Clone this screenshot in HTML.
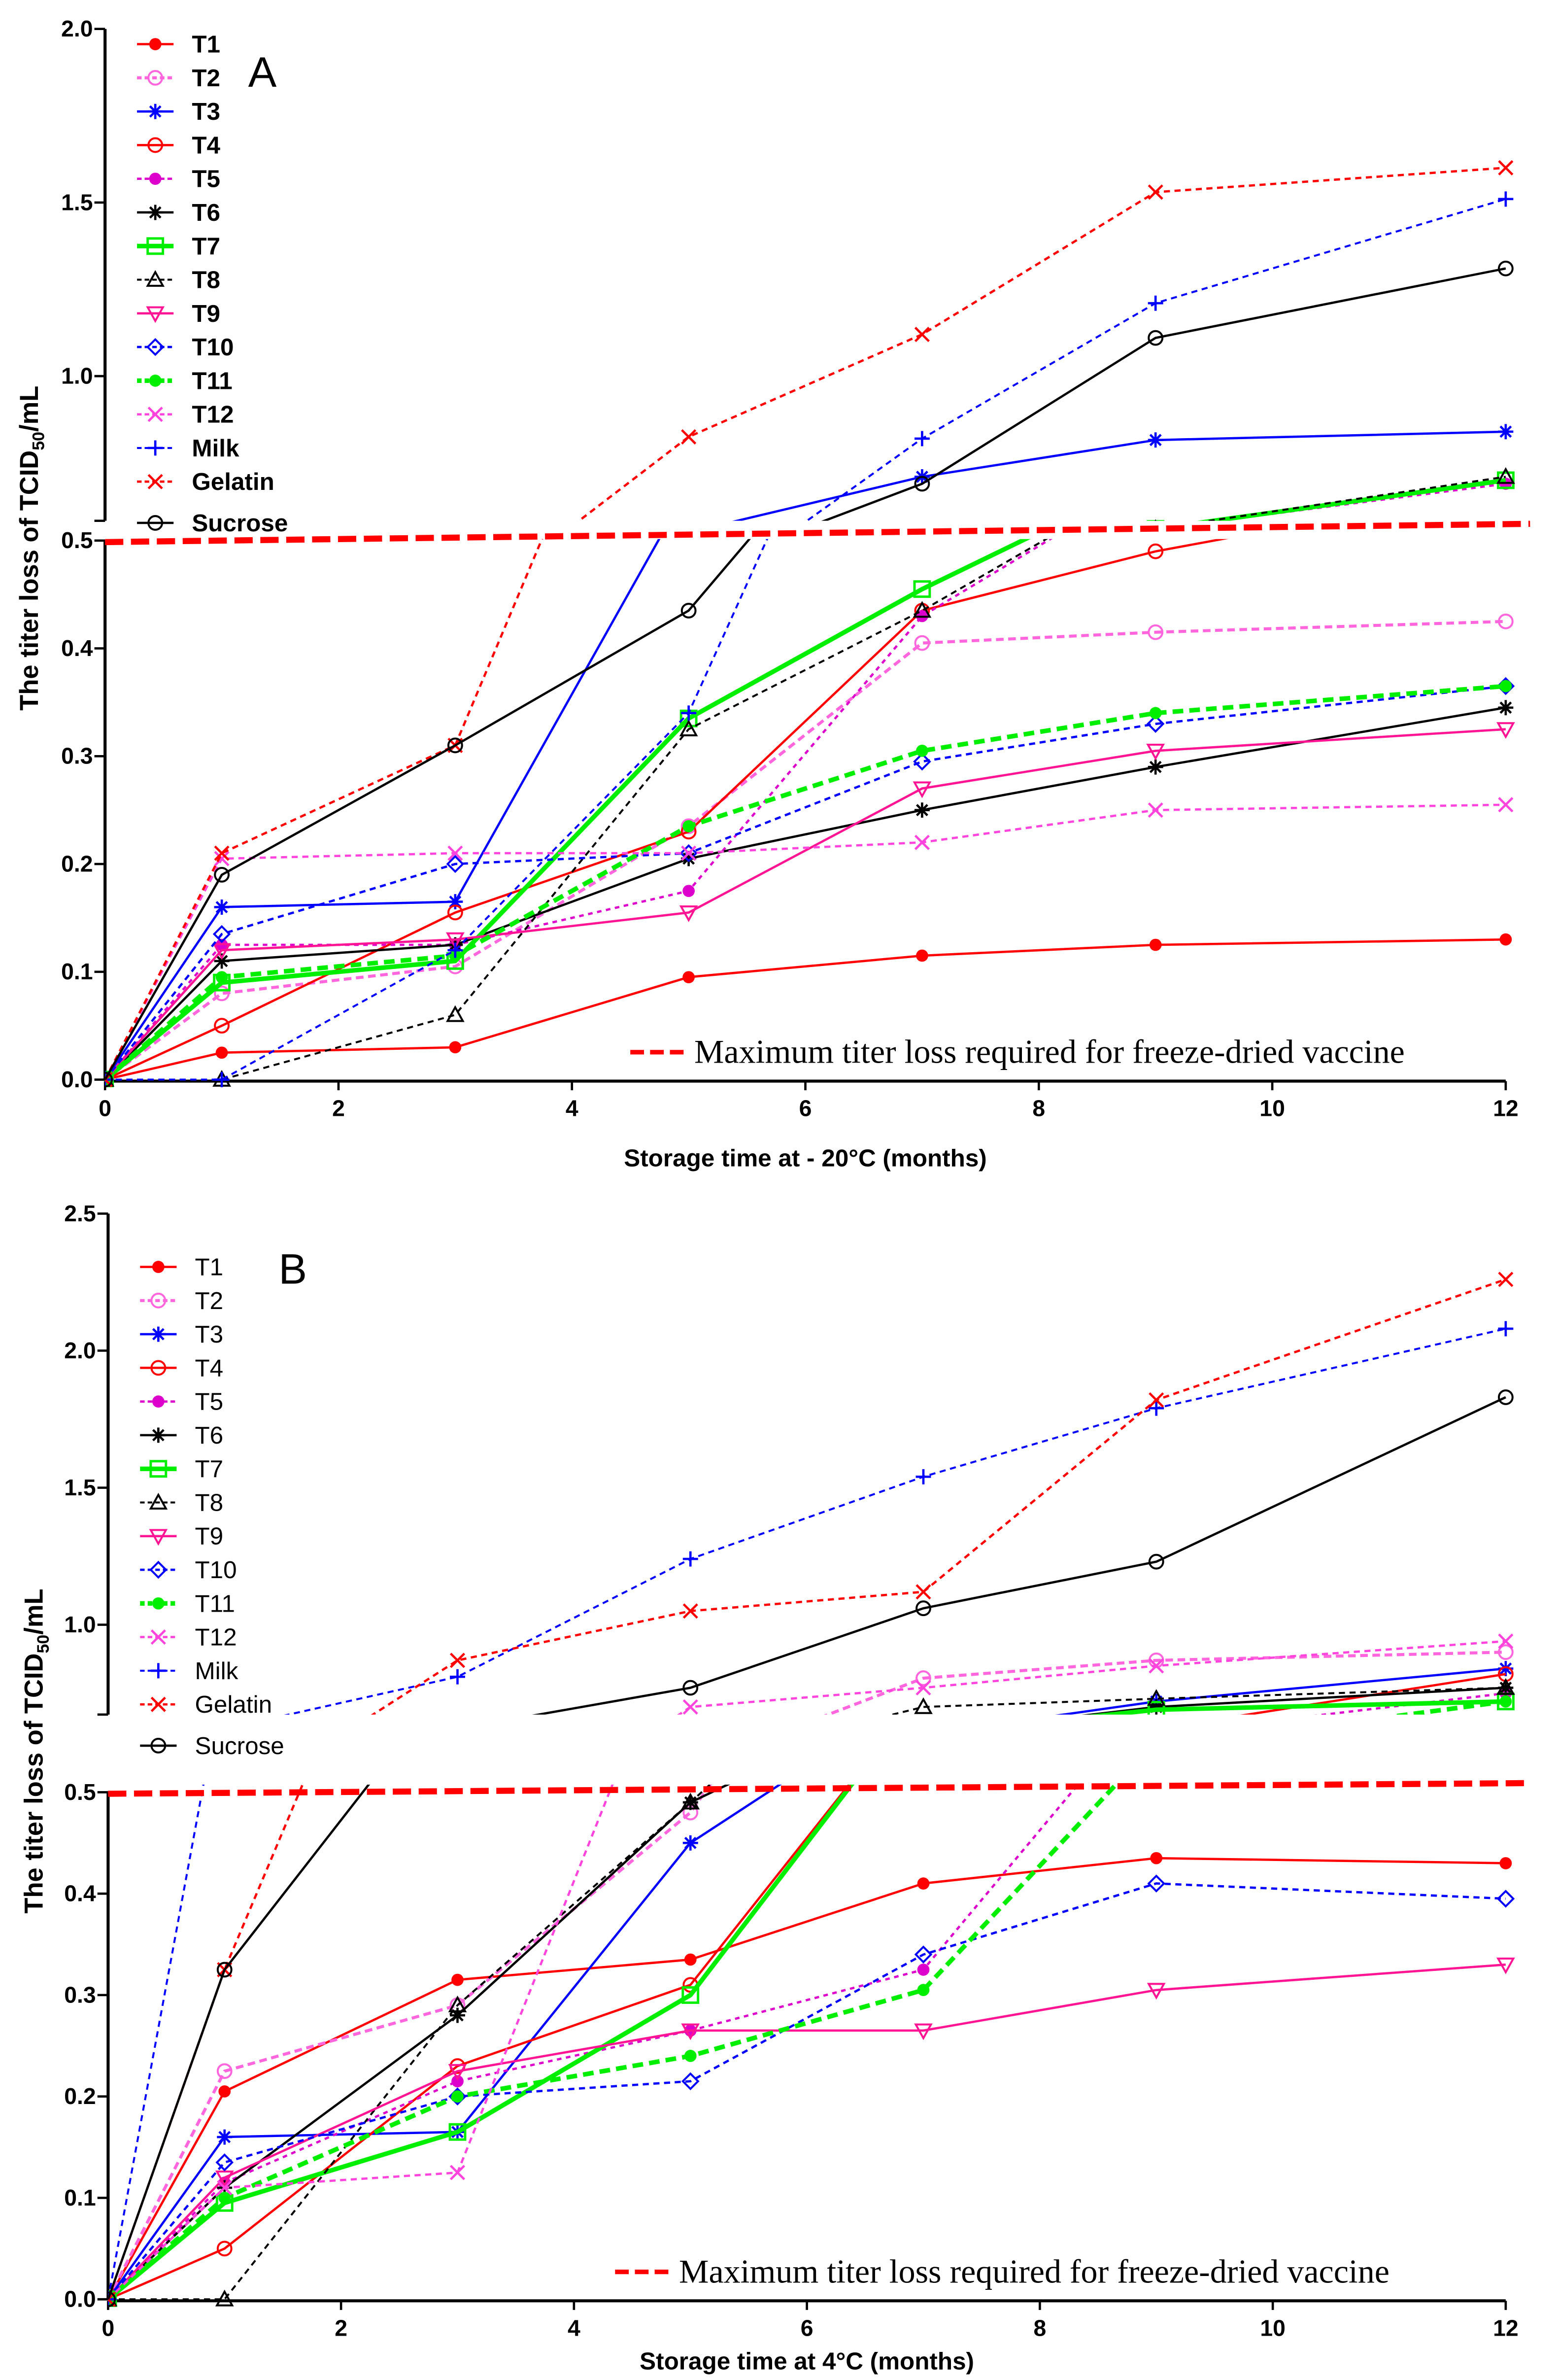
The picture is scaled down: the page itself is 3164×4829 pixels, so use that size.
<!DOCTYPE html>
<html><head><meta charset="utf-8"><style>
html,body{margin:0;padding:0;background:#fff}
svg{display:block}
text{font-family:"Liberation Sans",Arial,sans-serif}
text.serif{font-family:"Liberation Serif",serif}
</style></head><body>
<svg id="chart" width="3164" height="4829" viewBox="0 0 1024 1563" preserveAspectRatio="none" xmlns="http://www.w3.org/2000/svg">
<defs>
<clipPath id="cAu"><rect x="69" y="0" width="960" height="342"/></clipPath>
<clipPath id="cAl"><rect x="69" y="354" width="960" height="360"/></clipPath>
<clipPath id="cBu"><rect x="71" y="780" width="960" height="346"/></clipPath>
<clipPath id="cBl"><rect x="71" y="1172" width="960" height="343"/></clipPath>
</defs>
<g id="root"></g>
</svg>
<script>
const months=[0,1,3,5,7,9,12];
const seriesNames=["T1","T2","T3","T4","T5","T6","T7","T8","T9","T10","T11","T12","Milk","Gelatin","Sucrose"];
const aT1=[0,.025,.03,.095,.115,.125,.13];
const aT2=[0,.08,.105,.235,.405,.415,.425];
const aT3=[0,.16,.165,.55,.71,.816,.84];
const aT4=[0,.05,.155,.23,.435,.49,.55];
const aT5=[0,.125,.125,.175,.43,.56,.69];
const aT6=[0,.11,.125,.205,.25,.29,.345];
const aT7=[0,.09,.11,.335,.455,.56,.70];
const aT8=[0,0,.06,.325,.435,.56,.71];
const aT9=[0,.12,.13,.155,.27,.305,.325];
const aT10=[0,.135,.2,.21,.295,.33,.365];
const aT11=[0,.095,.115,.235,.305,.34,.365];
const aT12=[0,.205,.21,.21,.22,.25,.255];
const aMilk=[0,0,.12,.34,.82,1.21,1.51];
const aGel=[0,.21,.31,.825,1.12,1.53,1.60];
const aSuc=[0,.19,.31,.435,.69,1.11,1.31];
const bT1=[0,.205,.315,.335,.41,.435,.43];
const bT2=[0,.225,.29,.48,.805,.87,.90];
const bT3=[0,.16,.165,.45,.6,.72,.84];
const bT4=[0,.05,.23,.31,.6,.62,.82];
const bT5=[0,.115,.215,.265,.325,.6,.75];
const bT6=[0,.11,.28,.49,.6,.7,.77];
const bT7=[0,.095,.165,.30,.6,.69,.72];
const bT8=[0,0,.29,.49,.70,.73,.77];
const bT9=[0,.12,.225,.265,.265,.305,.33];
const bT10=[0,.135,.2,.215,.34,.41,.395];
const bT11=[0,.1,.2,.24,.305,.55,.72];
const bT12=[0,.11,.125,.70,.77,.85,.94];
const bMilk=[0,.62,.81,1.24,1.54,1.79,2.08];
const bGel=[0,.325,.87,1.05,1.12,1.82,2.26];
const bSuc=[0,.325,.62,.77,1.06,1.23,1.83];
const xTicks=[0,2,4,6,8,10,12];
const aLowTicks=["0.0","0.1","0.2","0.3","0.4","0.5"];
const aUpTicks=["1.0","1.5","2.0"];
const bLowTicks=["0.0","0.1","0.2","0.3","0.4","0.5"];
const bUpTicks=["1.0","1.5","2.0","2.5"];

const styles=[
 {c:"#ff0000",d:"",w:1.5,m:"dot"},{c:"#ff66dd",d:"5,3",w:2,m:"circ"},{c:"#0000ff",d:"",w:1.5,m:"star"},
 {c:"#ff0000",d:"",w:1.5,m:"circ"},{c:"#dd00cc",d:"3,3",w:1.5,m:"dot"},{c:"#000",d:"",w:1.5,m:"star"},
 {c:"#00ee00",d:"",w:3,m:"sq"},{c:"#000",d:"4,3",w:1.3,m:"tri"},{c:"#ff1493",d:"",w:1.5,m:"dtri"},
 {c:"#0000ff",d:"4,3",w:1.5,m:"diam"},{c:"#00ee00",d:"7,4",w:3,m:"dot"},{c:"#ff44dd",d:"4,3",w:1.5,m:"x"},
 {c:"#0000ff",d:"4,3",w:1.3,m:"plus"},{c:"#ff0000",d:"4,3",w:1.5,m:"x"},{c:"#000",d:"",w:1.5,m:"circ"}];
const aData=[aT1,aT2,aT3,aT4,aT5,aT6,aT7,aT8,aT9,aT10,aT11,aT12,aMilk,aGel,aSuc];
const bData=[bT1,bT2,bT3,bT4,bT5,bT6,bT7,bT8,bT9,bT10,bT11,bT12,bMilk,bGel,bSuc];

const NS="http://www.w3.org/2000/svg";
const root=document.getElementById('root');
function mk(tag,attrs,parent){const e=document.createElementNS(NS,tag);for(const k in attrs)e.setAttribute(k,attrs[k]);(parent||root).appendChild(e);return e;}
function marker(g,m,x,y,c){
 const r=4.5;let e;
 if(m==="dot")e=mk('circle',{cx:x,cy:y,r:4,fill:c},g);
 else if(m==="circ")e=mk('circle',{cx:x,cy:y,r:r,fill:'none',stroke:c,'stroke-width':1.3},g);
 else if(m==="sq")e=mk('rect',{x:x-5,y:y-5,width:10,height:10,fill:'none',stroke:c,'stroke-width':1.6},g);
 else if(m==="tri")e=mk('path',{d:`M${x},${y-5}L${x+5},${y+4}L${x-5},${y+4}Z`,fill:'none',stroke:c,'stroke-width':1.3},g);
 else if(m==="dtri")e=mk('path',{d:`M${x},${y+5}L${x+5},${y-4}L${x-5},${y-4}Z`,fill:'none',stroke:c,'stroke-width':1.3},g);
 else if(m==="diam")e=mk('path',{d:`M${x},${y-5}L${x+5},${y}L${x},${y+5}L${x-5},${y}Z`,fill:'none',stroke:c,'stroke-width':1.3},g);
 else if(m==="star")e=mk('path',{d:`M${x-5},${y}H${x+5}M${x},${y-5}V${y+5}M${x-3.5},${y-3.5}L${x+3.5},${y+3.5}M${x-3.5},${y+3.5}L${x+3.5},${y-3.5}`,stroke:c,'stroke-width':1.5},g);
 else if(m==="plus")e=mk('path',{d:`M${x-5},${y}H${x+5}M${x},${y-5}V${y+5}`,stroke:c,'stroke-width':1.5},g);
 else e=mk('path',{d:`M${x-4.5},${y-4.5}L${x+4.5},${y+4.5}M${x-4.5},${y+4.5}L${x+4.5},${y-4.5}`,stroke:c,'stroke-width':1.5},g);
 
 
}
function panel(P){
 const X=v=>P.x0+(P.x1-P.x0)*v/12;
 const yl=v=>P.l0-(P.l0-P.l5)*v/0.5;
 const yu=v=>P.u1-(v-1)*P.uPer;
 const g=mk('g',{});
 
 
 mk('path',{d:`M${P.x0},${P.l0}V${P.l5}M${P.x0},${P.ub}V${yu(P.umax)}`,stroke:'#000','stroke-width':2,fill:'none'},g);
 mk('path',{d:`M${P.x0},${P.l0+1}H${P.x1}`,stroke:'#000','stroke-width':2},g);
 aAxis(g,P,X,yl,yu);
 P.data.forEach((arr,i)=>{
  const s=styles[i];
  ['u','l'].forEach(seg=>{
   const yf=seg==='u'?yu:yl;
   const sg=mk('g',{'clip-path':`url(#${P.clip}${seg})`},g);
   
   
   const d=arr.map((v,j)=>(j?'L':'M')+X(months[j]).toFixed(1)+','+yf(v).toFixed(1)).join('');
   mk('path',{d:d,fill:'none',stroke:s.c,'stroke-width':s.w,'stroke-dasharray':s.d},sg);
   arr.forEach((v,j)=>marker(sg,s.m,X(months[j]),yf(v),s.c));
  });
 });
 const t=mk('path',{d:`M${P.x0},${P.l5+1}L${P.x1+16},${P.l5-(P.tslope)}`,stroke:'#ff0000','stroke-width':4,'stroke-dasharray':'12,5'},g);
 
 
 mk('path',{d:`M${P.lx},${P.l0-18}H${P.lx+36}`,stroke:'#ff0000','stroke-width':3,'stroke-dasharray':'9,4'},g);
 const tt=mk('text',{x:P.lx+42,y:P.l0-11,'font-size':P.tfs,fill:'#000','class':'serif'},g);
 tt.textContent='Maximum titer loss required  for freeze-dried vaccine';
 
 
 seriesNames.forEach((n,i)=>{
  const s=styles[i];const y=P.legY+i*P.legDy+(i===14?5:0);
  const lg=mk('g',{},g);
  
  
  mk('path',{d:`M${P.legX},${y}H${P.legX+24}`,stroke:s.c,'stroke-width':s.w,'stroke-dasharray':s.d?'3,2':''},lg);
  marker(lg,s.m,P.legX+12,y,s.c);
  const tx=mk('text',{x:P.legX+36,y:y+5.5,'font-size':16,'font-weight':P.bold?'bold':'normal',fill:'#000'},lg);
  tx.textContent=n;
 });
 const pl=mk('text',{x:P.px,y:P.py,'font-size':28,fill:'#000'},g);
 pl.textContent=P.label;
 
 
}
function aAxis(g,P,X,yl,yu){
 xTicks.forEach(v=>{
  mk('path',{d:`M${X(v)},${P.l0+1}V${P.l0+7}`,stroke:'#000','stroke-width':1.5},g);
  const t=mk('text',{x:X(v),y:P.l0+24,'font-size':15,'font-weight':'bold','text-anchor':'middle'},g);
  t.textContent=v;
 });
 P.lowT.forEach((s,i)=>{
  const y=yl(parseFloat(s));
  mk('path',{d:`M${P.x0-7},${y}H${P.x0}`,stroke:'#000','stroke-width':1.5},g);
  const t=mk('text',{x:P.x0-8,y:y+5,'font-size':15,'font-weight':'bold','text-anchor':'end'},g);t.textContent=s;
 });
 P.upT.forEach(s=>{
  const y=yu(parseFloat(s));
  mk('path',{d:`M${P.x0-7},${y}H${P.x0}`,stroke:'#000','stroke-width':1.5},g);
  const t=mk('text',{x:P.x0-8,y:y+5,'font-size':15,'font-weight':'bold','text-anchor':'end'},g);t.textContent=s;
 });
 mk('path',{d:`M${P.x0-7},${P.ub}H${P.x0}`,stroke:'#000','stroke-width':1.5},g);
 const xt=mk('text',{x:(P.x0+P.x1)/2,y:P.xty,'font-size':16,'font-weight':'bold','text-anchor':'middle'},g);
 xt.textContent=P.xtitle;
 
 
 const yt=mk('text',{x:0,y:0,'font-size':17,'font-weight':'bold','text-anchor':'middle',transform:`translate(${P.ytx},${P.yty}) rotate(-90)`},g);
 yt.innerHTML='The titer loss of TCID<tspan font-size="11" dy="4">50</tspan><tspan dy="-4">/mL</tspan>';
 
 
}
panel({name:'panel-a',label:'A',px:163,py:57,x0:69,x1:989,l0:709,l5:355,u1:247,uPer:228,ub:342,umax:2.0,clip:'cA',
 data:aData,lowT:aLowTicks,upT:aUpTicks,legX:90,legY:29,legDy:22.1,bold:true,tslope:11,lx:414,tfs:22,
 xtitle:'Storage time at - 20°C (months)',xty:766,ytx:25,yty:360});
panel({name:'panel-b',label:'B',px:183,py:843,x0:71,x1:989,l0:1510,l5:1177,u1:1067,uPer:180,ub:1126,umax:2.5,clip:'cB',
 data:bData,lowT:bLowTicks,upT:bUpTicks,legX:92,legY:832,legDy:22.1,bold:false,tslope:6,lx:404,tfs:22,
 xtitle:'Storage time at 4°C (months)',xty:1556,ytx:28,yty:1150});
</script>
</body></html>
